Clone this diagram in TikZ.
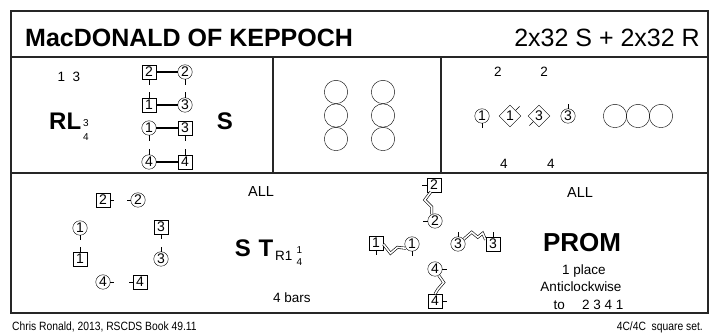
\documentclass[tikz,border=0pt]{standalone}
\usepackage{fontspec}
\setmainfont{Liberation Sans}
\newfontfamily\narrowfam[FakeStretch=0.86]{Liberation Sans}
\usetikzlibrary{shapes.geometric}

\newcommand\dancerfont{\fontsize{14}{14}\selectfont}
\newcommand\smallfont{\fontsize{13.5}{13.5}\selectfont}
\newcommand\tinyfont{\fontsize{10}{10}\selectfont}
\newcommand\footfont{\narrowfam\fontsize{12}{12}\selectfont}
\newcommand\headfont{\fontsize{25}{25}\selectfont}
\newcommand\figfont{\fontsize{24}{24}\selectfont\bfseries}

\begin{document}
\begin{tikzpicture}[x=1pt, y=-1pt,
    frame/.style={line width=1.1pt, black!85},
    man/.style={draw, rectangle, minimum width=14.5pt, minimum height=13.5pt, inner sep=0pt, font=\dancerfont},
    lady/.style={draw, circle, minimum size=14.5pt, inner sep=0pt, font=\dancerfont},
    turn/.style={draw, diamond, minimum size=22pt, inner sep=0pt, font=\dancerfont},
    spot/.style={draw, circle, minimum size=23.4pt, inner sep=0pt},
    hold/.style={line width=1.3pt},
    facing/.style={line width=0.6pt},
    zig/.style={double, double distance=1.6pt, line width=0.6pt},
    txt/.style={font=\smallfont, anchor=base},
    fig/.style={font=\figfont, anchor=base}]

    \useasboundingbox (0,0) rectangle (713,336);

    % frame
    \draw[frame] (11,11) rectangle (708,313);
    \draw[frame] (11,57) -- (708,57);
    \draw[frame] (11,173) -- (708,173);
    \draw[frame] (273,57) -- (273,173);
    \draw[frame] (441,57) -- (441,173);

    \node[anchor=base west, font=\headfont\bfseries, inner sep=0pt] (title) at (25,47) {MacDONALD OF KEPPOCH};
    \node[anchor=base east, font=\headfont, inner sep=0pt] (tempo) at (700,47) {2x32 S + 2x32 R};

    % bars 1-8
    \node[txt] (cpl13) at (69,82) {1\ \ 3};
    \node[fig, anchor=base west, inner sep=0pt] (rl) at (49,130) {RL};
    \node[font=\tinyfont, anchor=base west, inner sep=0pt] (rl3) at (83,127) {3};
    \node[font=\tinyfont, anchor=base west, inner sep=0pt] (rl4) at (83,141) {4};

    \node[man] (m2) at (149,72) {2};
    \node[lady] (l2) at (185,72) {2};
    \node[man] (m1) at (149,105) {1};
    \node[lady] (l3) at (185,105) {3};
    \node[lady] (l1) at (149,128) {1};
    \node[man] (m3) at (185,128) {3};
    \node[lady] (l4) at (149,162) {4};
    \node[man] (m4) at (185,162) {4};

    \draw[hold] (m2) -- (l2);
    \draw[hold] (m1) -- (l3);
    \draw[hold] (l1) -- (m3);
    \draw[hold] (l4) -- (m4);

    \draw[facing] (m2.south) -- ++(0,6);
    \draw[facing] (l2.south) -- ++(0,6);
    \draw[facing] (m1.north) -- ++(0,-6);
    \draw[facing] (l3.north) -- ++(0,-6);
    \draw[facing] (l1.south) -- ++(0,6);
    \draw[facing] (m3.south) -- ++(0,6);
    \draw[facing] (l4.north) -- ++(0,-6);
    \draw[facing] (m4.north) -- ++(0,-6);

    \node[fig] (s1) at (225,130) {S};

    % bars 9-16
    \node[spot] (p1) at (336,92) {};
    \node[spot] (p2) at (336,115.5) {};
    \node[spot] (p3) at (336,139) {};
    \node[spot] (p4) at (383,92) {};
    \node[spot] (p5) at (383,115.5) {};
    \node[spot] (p6) at (383,139) {};

    % bars 17-24
    \node[txt] (top2a) at (498,77) {2};
    \node[txt] (top2b) at (544,77) {2};
    \node[txt] (bot4a) at (504,169) {4};
    \node[txt] (bot4b) at (551,169) {4};

    \node[lady] (r1) at (482,116) {1};
    \node[turn] (t1) at (510,116) {1};
    \node[turn] (t3) at (539,116) {3};
    \node[lady] (r3) at (568,116) {3};
    \draw[facing] (r1.south) -- ++(0,5);
    \draw[facing] (t1.45) -- ++(4,-4);
    \draw[facing] (t3.225) -- ++(-4,4);
    \draw[facing] (r3.north) -- ++(0,-5);

    \node[spot] (q1) at (615,116) {};
    \node[spot] (q2) at (638,116) {};
    \node[spot] (q3) at (661,116) {};

    % bars 25-28
    \node[man] (sm2) at (103,200) {2};
    \node[lady] (sl2) at (138,200) {2};
    \node[lady] (sl1) at (80,228) {1};
    \node[man] (sm1) at (80,259) {1};
    \node[man] (sm3) at (161,227) {3};
    \node[lady] (sl3) at (161,259) {3};
    \node[lady] (sl4) at (103,282) {4};
    \node[man] (sm4) at (140,282) {4};

    \draw[facing] (sm2.east) -- ++(4,0);
    \draw[facing] (sl2.west) -- ++(-4,0);
    \draw[facing] (sl1.south) -- ++(0,5);
    \draw[facing] (sm1.north) -- ++(0,-5);
    \draw[facing] (sm3.south) -- ++(0,5);
    \draw[facing] (sl3.north) -- ++(0,-5);
    \draw[facing] (sl4.east) -- ++(4,0);
    \draw[facing] (sm4.west) -- ++(-4,0);

    \node[txt] (all1) at (261,197) {\fontsize{14.5}{14.5}\selectfont ALL};
    \node[fig] (s2) at (243,257) {S};
    \node[fig] (tt) at (266,257) {T};
    \node[anchor=base west, inner sep=0pt, font=\fontsize{13.5}{13.5}\selectfont] (r1q) at (275,261) {R1};
    \node[font=\tinyfont, anchor=base west, inner sep=0pt] (q14a) at (296.5,254) {1};
    \node[font=\tinyfont, anchor=base west, inner sep=0pt] (q14b) at (296.5,266) {4};
    \node[txt] (bars) at (292,303) {4 bars};

    % bars 29-32
    \node[man] (pm2) at (434,185) {2};
    \node[lady] (pl2) at (435,221) {2};
    \node[man] (pm1) at (376,243) {1};
    \node[lady] (pl1) at (412,244) {1};
    \node[lady] (pl3) at (458,244) {3};
    \node[man] (pm3) at (493,244) {3};
    \node[lady] (pl4) at (435,269) {4};
    \node[man] (pm4) at (435,301) {4};

    \draw[zig] (pm2.-115) -- ++(-6,8) -- ++(7,7) -- (pl2.115);
    \draw[zig] (pm1.-10) -- ++(7,9) -- ++(7,-6) -- (pl1.215);
    \draw[zig] (pl3.40) -- ++(8,-7) -- ++(6,5) -- ++(5,-4) -- (pm3.150);
    \draw[zig] (pl4.-60) -- ++(5,7) -- ++(-6,7) -- (pm4.north);

    \draw[facing] (pm2.west) -- ++(-5,0);
    \draw[facing] (pl2.west) -- ++(-5,0);
    \draw[facing] (pm1.south) -- ++(0,5);
    \draw[facing] (pl1.south) -- ++(0,5);
    \draw[facing] (pl3.north) -- ++(0,-5);
    \draw[facing] (pm3.north) -- ++(0,-5);
    \draw[facing] (pl4.east) -- ++(5,0);
    \draw[facing] (pm4.east) -- ++(5,0);

    \node[txt] (all2) at (580,198) {\fontsize{14.5}{14.5}\selectfont ALL};
    \node[fig, font=\fontsize{26}{26}\selectfont\bfseries] (prom) at (582,252) {PROM};
    \node[txt] (place) at (584,275) {1 place};
    \node[txt] (anti) at (581,292) {Anticlockwise};
    \node[txt, anchor=base west] (to) at (550,310) {to\quad\ 2 3 4 1};

    % footer
    \node[anchor=base west, inner sep=0pt, font=\footfont] (credit) at (12,331) {Chris Ronald, 2013, RSCDS Book 49.11};
    \node[anchor=base east, inner sep=0pt, font=\footfont] (set) at (703,331) {4C/4C\ \ square set.};
\end{tikzpicture}
\end{document}
